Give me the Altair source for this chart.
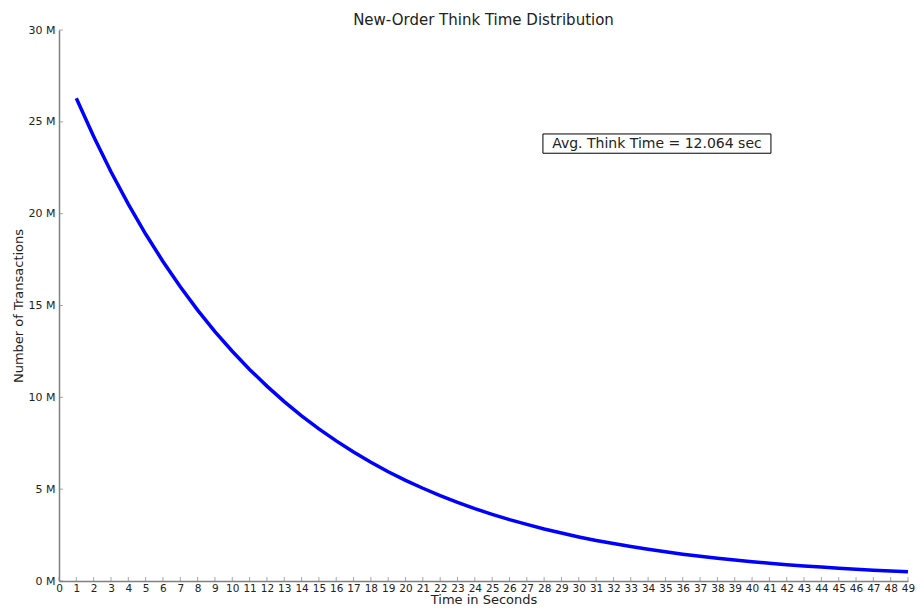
import altair as alt
import pandas as pd

# Data
seconds = list(range(1, 50))
transactions_m = [
    26.28, 24.20, 22.28, 20.52, 18.89, 17.40, 16.02, 14.75, 13.58, 12.51,
    11.52, 10.61, 9.77, 8.99, 8.28, 7.63, 7.02, 6.47, 5.95, 5.48,
    5.05, 4.65, 4.28, 3.94, 3.63, 3.34, 3.08, 2.83, 2.61, 2.40,
    2.21, 2.04, 1.88, 1.73, 1.59, 1.46, 1.35, 1.24, 1.14, 1.05,
    0.97, 0.89, 0.82, 0.76, 0.70, 0.64, 0.59, 0.54, 0.50,
]
x_ticks = list(range(0, 50))
y_ticks = [0, 5e6, 10e6, 15e6, 20e6, 25e6, 30e6]
annotation_text = "Avg. Think Time = 12.064 sec"
# annotation box, in data units (x seconds, y transactions)
box_x = [27.93, 41.09]
box_y = [23.29e6, 24.34e6]

df_line = pd.DataFrame({"t": seconds, "n": [v * 1e6 for v in transactions_m]})
df_xt = pd.DataFrame({"t": x_ticks, "n": [0] * len(x_ticks)})
df_yt = pd.DataFrame({"t": [0] * len(y_ticks), "n": y_ticks})
df_box = pd.DataFrame({"t": [box_x[0]], "t2": [box_x[1]], "n": [box_y[0]], "n2": [box_y[1]]})
df_txt = pd.DataFrame({"t": [(box_x[0] + box_x[1]) / 2], "n": [(box_y[0] + box_y[1]) / 2],
                       "label": [annotation_text]})

FONT = "DejaVu Sans"
AXIS_GRAY = "#808080"
TEXT = "#222222"

xscale = alt.Scale(domain=[0, 49], nice=False, zero=False)
yscale = alt.Scale(domain=[0, 30e6], nice=False)

xaxis = alt.Axis(
    values=x_ticks, ticks=False, grid=False, domainColor=AXIS_GRAY, domainWidth=1.5,
    labelFontSize=10.5, labelColor=TEXT, labelPadding=2, labelFont=FONT, labelFlush=False,
    title="Time in Seconds", titleFont=FONT, titleFontSize=13, titleFontWeight="normal",
    titleColor=TEXT, titlePadding=0, labelOverlap=False,
)
yaxis = alt.Axis(
    values=y_ticks, ticks=False, grid=False, domainColor=AXIS_GRAY, domainWidth=1.5,
    labelFontSize=11, labelColor=TEXT, labelPadding=4, labelFont=FONT,
    labelExpr="format(datum.value / 1000000, 'd') + ' M'",
    title="Number of Transactions", titleFont=FONT, titleFontSize=13,
    titleFontWeight="normal", titleColor=TEXT, titlePadding=3,
)

X = alt.X("t:Q", scale=xscale, axis=xaxis, title="Time in Seconds")
Y = alt.Y("n:Q", scale=yscale, axis=yaxis, title="Number of Transactions")

line = alt.Chart(df_line).mark_line(color="#0000ff", strokeWidth=3.5).encode(x=X, y=Y)

xt = alt.Chart(df_xt).mark_tick(
    color=AXIS_GRAY, orient="vertical", size=4, thickness=1, yOffset=-2
).encode(x=X, y=Y)
yt = alt.Chart(df_yt).mark_tick(
    color=AXIS_GRAY, orient="horizontal", size=4, thickness=1, xOffset=2
).encode(x=X, y=Y)

box = alt.Chart(df_box).mark_rect(fill="white", stroke="black", strokeWidth=1).encode(
    x=X, x2="t2:Q", y=Y, y2="n2:Q"
)
txt = alt.Chart(df_txt).mark_text(
    font=FONT, fontSize=14, color=TEXT, align="center", baseline="middle"
).encode(x=X, y=Y, text="label:N")

chart = alt.layer(line, xt, yt, box, txt).properties(
    width=849,
    height=551,
    autosize=alt.AutoSizeParams(type="none"),
    padding={"left": 51, "top": 22, "right": 7, "bottom": 26},
    title=alt.TitleParams(
        "New-Order Think Time Distribution", font=FONT, fontSize=15,
        fontWeight="normal", color=TEXT, anchor="middle", frame="group", offset=-4,
    ),
).configure_view(stroke=None)

chart.save("out.html", embed_options={"renderer": "svg", "actions": False})
